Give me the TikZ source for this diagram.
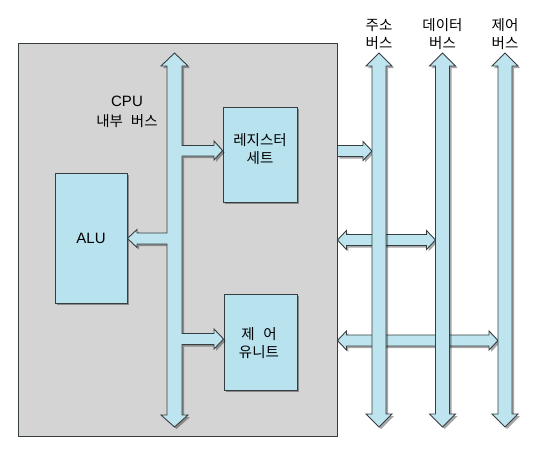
\documentclass[tikz,border=0pt]{standalone}
\usepackage{fontspec}
\newfontfamily\kfont{Noto Sans CJK KR}
\newfontfamily\lfont{Liberation Sans}
\usepackage{tikz}
\usetikzlibrary{calc,shadows}
\definecolor{cpugray}{RGB}{212,212,212}
\definecolor{unitblue}{RGB}{184,226,238}
\definecolor{busblue}{RGB}{190,229,239}
\definecolor{edgegray}{RGB}{55,62,66}
% vertical fat double arrow, #1 top tip, #2 bottom tip
\newcommand{\vfat}[2]{%
  \draw[fatarrow] (#1) -- ++(13,13) -- ++(-6,0) -- ($(#2)+(7,-13)$)
    -- ++(6,0) -- (#2) -- ++(-13,-13) -- ++(6,0)
    -- ($(#1)+(-7,13)$) -- ++(-6,0) -- cycle;
}
% horizontal fat double arrow, #1 left tip, #2 right tip
\newcommand{\hfat}[2]{%
  \draw[fatarrow] (#1) -- ++(9,-9.5) -- ++(0,4) -- ($(#2)+(-9,-5.5)$)
    -- ++(0,-4) -- (#2) -- ++(-9,9.5) -- ++(0,-4)
    -- ($(#1)+(9,5.5)$) -- ++(0,4) -- cycle;
}
% horizontal fat single arrow, #1 flat end, #2 tip
\newcommand{\hfatone}[2]{%
  \draw[fatarrow] ($(#1)+(0,-5.5)$) -- ($(#2)+(-9,-5.5)$) -- ++(0,-4)
    -- (#2) -- ++(-9,9.5) -- ++(0,-4) -- ($(#1)+(0,5.5)$) -- cycle;
}

\begin{document}
\begin{tikzpicture}[x=1pt,y=-1pt,
    font=\kfont\fontsize{14.5}{18}\selectfont,
    fatarrow/.style={draw=edgegray,fill=busblue,line width=.9pt,line join=miter,
      drop shadow={shadow xshift=2pt,shadow yshift=-2pt,fill=black,opacity=.35}},
    unitbox/.style={draw=edgegray,fill=unitblue,line width=.9pt,inner sep=0pt,
      align=center,drop shadow={shadow xshift=2pt,shadow yshift=-2pt,fill=black,opacity=.35}},
    buslabel/.style={align=center,inner sep=0pt}]
  \useasboundingbox (0,0) rectangle (535,455);
  \node[draw=edgegray,fill=cpugray,line width=.9pt,minimum width=319pt,
    minimum height=393pt,inner sep=0pt] (cpu) at (177.5,239.5) {};

  \node[unitbox,minimum width=72pt,minimum height=130pt,
    font=\lfont\fontsize{15}{18}\selectfont] (alu) at (91,238) {ALU};
  \node[unitbox,minimum width=74pt,minimum height=95pt] (reg) at (260,154.5) {};
  \node[buslabel] (regtxt) at (260,149) {레지스터\\세트};
  \node[unitbox,minimum width=73pt,minimum height=96pt] (ctrl) at (260.5,342) {};
  \node[buslabel] (ctrltxt) at (259,343.5) {제\hspace{.6em}어\\유니트};

  % CPU internal bus
  \draw[fatarrow] (174.5,53) -- (188,66) -- (182,66) -- (182,145.5)
    -- (214,145.5) -- (214,141) -- (reg.west |- 0,150.5) -- (214,160) -- (214,156)
    -- (182,156) -- (182,333.5) -- (214,333.5) -- (214,329) -- (ctrl.west |- 0,339)
    -- (214,349) -- (214,344.5) -- (182,344.5) -- (182,415) -- (188,415)
    -- (174.5,427) -- (161,415) -- (167,415) -- (167,244) -- (137,244)
    -- (137,247.5) -- (alu.east |- 0,238.5) -- (137,229.5) -- (137,233)
    -- (167,233) -- (167,66) -- (161,66) -- cycle;
  \node[buslabel,font=\kfont\fontsize{14.5}{20}\selectfont] (ibus) at (127,112)
    {{\lfont\fontsize{15}{20}\selectfont CPU}\\내부\hspace{.55em}버스};

  % system buses
  \coordinate (abtop) at (379,53);   \coordinate (abbot) at (379,427);
  \coordinate (dbtop) at (442.5,53); \coordinate (dbbot) at (442.5,427);
  \coordinate (cbtop) at (505,53);   \coordinate (cbbot) at (505,427);
  \hfatone{cpu.east |- 0,151}{372,151}
  \hfat{cpu.east |- 0,240}{435.5,240}
  \hfat{cpu.east |- 0,340.5}{498,340.5}
  \vfat{abtop}{abbot}
  \vfat{dbtop}{dbbot}
  \vfat{cbtop}{cbbot}
  \node[buslabel] (ablbl) at (379,34) {주소\\버스};
  \node[buslabel] (dblbl) at (442.5,34) {데이터\\버스};
  \node[buslabel] (cblbl) at (505,34) {제어\\버스};
\end{tikzpicture}
\end{document}
